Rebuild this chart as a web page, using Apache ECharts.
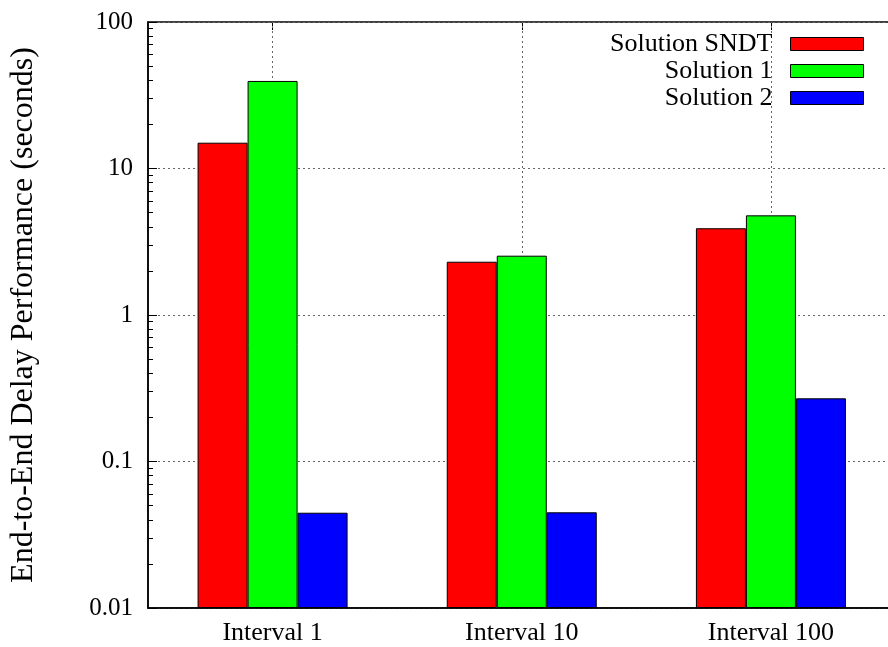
<!DOCTYPE html>
<html>
<head>
<meta charset="utf-8">
<script src="https://cdn.jsdelivr.net/npm/echarts@6/dist/echarts.min.js"></script>
<style>html,body{margin:0;padding:0;background:#fff;overflow:hidden}#c{width:896px;height:647px}</style>
</head>
<body>
<div id="c"></div>
<script>
var categories = ['Interval 1', 'Interval 10', 'Interval 100'];
var seriesNames = ['Solution SNDT', 'Solution 1', 'Solution 2'];
var sndtValues = [15.0, 2.31, 3.91];
var sol1Values = [39.6, 2.54, 4.79];
var sol2Values = [0.0447, 0.0450, 0.270];
var minorTickValues = [0.02,0.03,0.04,0.05,0.06,0.07,0.08,0.09,
                       0.2,0.3,0.4,0.5,0.6,0.7,0.8,0.9,
                       2,3,4,5,6,7,8,9,
                       20,30,40,50,60,70,80,90];
var colors = ['#ff0000', '#00ff00', '#0000ff'];
var FONT = 'Liberation Serif';

var chart = echarts.init(document.getElementById('c'), null, {renderer: 'canvas'});
function barSeries(name, data, color) {
  return {
    name: name, type: 'bar', data: data, xAxisIndex: 0, yAxisIndex: 0,
    barWidth: 50, barGap: '0%', z: 2,
    itemStyle: {color: color, borderColor: '#000', borderWidth: 1},
    emphasis: {disabled: true}, animation: false
  };
}
var option = {
  animation: false,
  grid: {left: 148, top: 22, bottom: 39, right: 0.5, show: true, borderColor: '#000', borderWidth: 1.5, backgroundColor: 'transparent'},
  legend: {
    orient: 'vertical', right: 32, top: 31, align: 'right', padding: 0,
    itemWidth: 73, itemHeight: 13, itemGap: 1,
    icon: 'rect',
    textStyle: {fontFamily: FONT, fontSize: 26, color: '#000', lineHeight: 26, padding: [0, 13, 0, 0]},
    itemStyle: {borderColor: '#000', borderWidth: 1},
    data: seriesNames
  },
  xAxis: [{
    type: 'category', data: categories, position: 'bottom',
    axisLine: {show: true, lineStyle: {color: '#000', width: 1.5}},
    axisTick: {show: true, inside: true, alignWithLabel: true, length: 8, lineStyle: {color: '#000'}},
    axisLabel: {fontFamily: FONT, fontSize: 26, color: '#000', margin: 12},
    splitLine: {show: false}
  }, {
    type: 'category', data: categories, position: 'top',
    axisLine: {show: false},
    axisTick: {show: true, inside: true, alignWithLabel: true, length: 8, lineStyle: {color: '#000'}},
    axisLabel: {show: false},
    splitLine: {show: false}
  }],
  yAxis: [{
    type: 'log', logBase: 10, min: 0.01, max: 100, startValue: 0.01, position: 'left',
    name: 'End-to-End Delay Performance (seconds)', nameLocation: 'middle', nameGap: 108,
    nameTextStyle: {fontFamily: FONT, fontSize: 32, color: '#000'},
    axisLine: {show: true, lineStyle: {color: '#000', width: 1.5}},
    axisTick: {show: true, inside: true, length: 9, lineStyle: {color: '#000'}},
    axisLabel: {fontFamily: FONT, fontSize: 25, color: '#000', margin: 15},
    splitLine: {show: true, lineStyle: {color: '#666', type: [2, 3], width: 1}}
  }, {
    type: 'log', logBase: 10, min: 0.01, max: 100, position: 'left',
    axisLine: {show: false},
    axisTick: {show: true, inside: true, length: 5, lineStyle: {color: '#000'}, customValues: minorTickValues},
    axisLabel: {show: false},
    splitLine: {show: false}
  }],
  series: [
    {
      name: 'grid-x', type: 'line', data: [], xAxisIndex: 0, yAxisIndex: 0, z: 1,
      silent: true, animation: false,
      markLine: {
        silent: true, z: 1, symbol: ['none', 'none'], label: {show: false},
        lineStyle: {color: '#666', type: [2, 3], width: 1},
        emphasis: {disabled: true}, animation: false,
        data: categories.map(function (c) { return {xAxis: c}; })
      }
    },
    barSeries(seriesNames[0], sndtValues, colors[0]),
    barSeries(seriesNames[1], sol1Values, colors[1]),
    barSeries(seriesNames[2], sol2Values, colors[2])
  ]
};
chart.setOption(option);
</script>
</body>
</html>
